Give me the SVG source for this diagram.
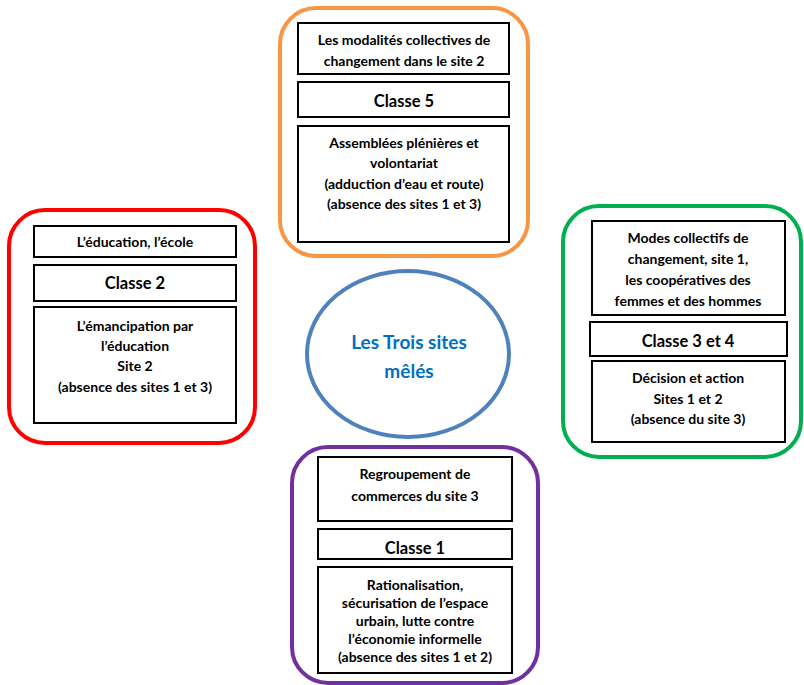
<svg xmlns="http://www.w3.org/2000/svg" width="804" height="685" viewBox="0 0 804 685">
<style>
.outer{fill:none;stroke-width:4}
.box{fill:#fff;stroke:#000;stroke-width:2}
text{font-family:Lato,"Open Sans","Liberation Sans",sans-serif;font-weight:bold;text-anchor:middle;fill:#000}
.t{font-size:14px}
.c{font-size:16.5px}
.title{font-size:19px;fill:#0070C0}
</style>
<rect width="804" height="685" fill="#fff"/>
<g id="connectors"></g>
<g id="center">
<ellipse cx="408" cy="354" rx="101" ry="83" fill="none" stroke="#4F81BD" stroke-width="4"/>
<text class="title" x="409" y="349">Les Trois sites</text>
<text class="title" x="409" y="378">mêlés</text>
</g>
<g id="orange">
<rect class="outer" x="280" y="8" width="248" height="248" rx="36" stroke="#F79646"/>
<rect class="box" x="298" y="23" width="211" height="51"/>
<text class="t" x="404" y="45">Les modalités collectives de</text>
<text class="t" x="404" y="66">changement dans le site 2</text>
<rect class="box" x="298" y="82" width="211" height="35"/>
<text class="c" x="404" y="107">Classe 5</text>
<rect class="box" x="298" y="126" width="211" height="116"/>
<text class="t" x="404" y="148">Assemblées plénières et</text>
<text class="t" x="404" y="168">volontariat</text>
<text class="t" x="404" y="189">(adduction d’eau et route)</text>
<text class="t" x="404" y="209">(absence des sites 1 et 3)</text>
</g>
<g id="red">
<rect class="outer" x="9" y="210" width="246" height="233" rx="36" stroke="#FF0000"/>
<rect class="box" x="34" y="226" width="202" height="31"/>
<text class="t" x="135" y="247">L’éducation, l’école</text>
<rect class="box" x="34" y="265" width="202" height="36"/>
<text class="c" x="135" y="289">Classe 2</text>
<rect class="box" x="34" y="307" width="202" height="116"/>
<text class="t" x="135" y="331">L’émancipation par</text>
<text class="t" x="135" y="351">l’éducation</text>
<text class="t" x="135" y="371">Site 2</text>
<text class="t" x="135" y="392">(absence des sites 1 et 3)</text>
</g>
<g id="green">
<rect class="outer" x="563" y="206" width="238" height="251" rx="36" stroke="#00B050"/>
<rect class="box" x="592" y="221" width="193" height="94"/>
<text class="t" x="688" y="243">Modes collectifs de</text>
<text class="t" x="688" y="264">changement, site 1,</text>
<text class="t" x="688" y="285">les coopératives des</text>
<text class="t" x="688" y="306">femmes et des hommes</text>
<rect class="box" x="590" y="322" width="197" height="34"/>
<text class="c" x="688" y="347">Classe 3 et 4</text>
<rect class="box" x="592" y="361" width="193" height="81"/>
<text class="t" x="688" y="383">Décision et action</text>
<text class="t" x="688" y="404">Sites 1 et 2</text>
<text class="t" x="688" y="424">(absence du site 3)</text>
</g>
<g id="purple">
<rect class="outer" x="292" y="447" width="246" height="236" rx="36" stroke="#7030A0"/>
<rect class="box" x="318" y="457" width="194" height="64"/>
<text class="t" x="415" y="479">Regroupement de</text>
<text class="t" x="415" y="501">commerces du site 3</text>
<rect class="box" x="318" y="529" width="194" height="30"/>
<text class="c" x="415" y="554">Classe 1</text>
<rect class="box" x="318" y="567" width="194" height="106"/>
<text class="t" x="415" y="590">Rationalisation,</text>
<text class="t" x="415" y="608">sécurisation de l’espace</text>
<text class="t" x="415" y="626">urbain, lutte contre</text>
<text class="t" x="415" y="644">l’économie informelle</text>
<text class="t" x="415" y="662">(absence des sites 1 et 2)</text>
</g>
</svg>
